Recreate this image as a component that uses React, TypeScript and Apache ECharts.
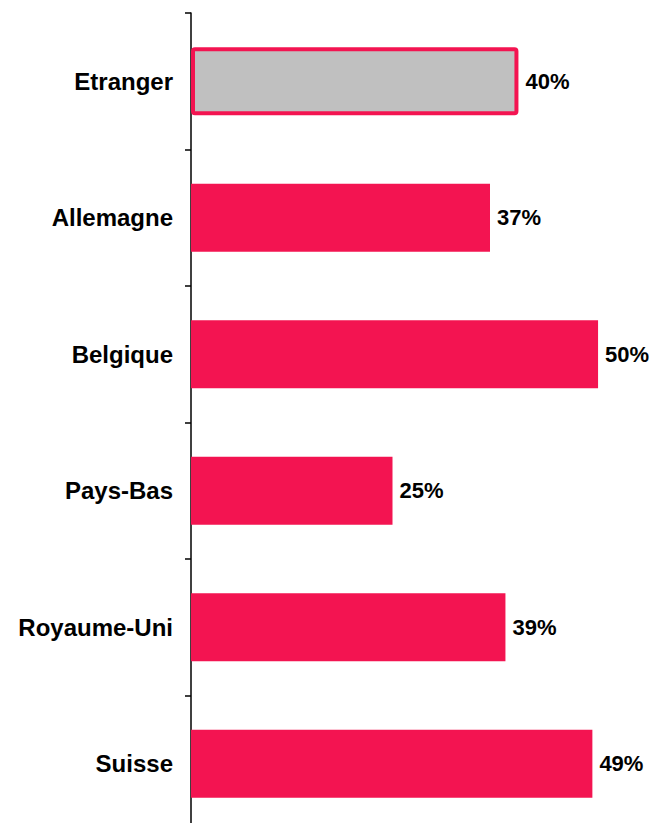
import React, { useEffect, useRef } from "react";
import * as echarts from "echarts";

const categories = ["Etranger", "Allemagne", "Belgique", "Pays-Bas", "Royaume-Uni", "Suisse"];
const values = [40.3, 36.8, 50.1, 24.8, 38.7, 49.4];
const labels = ["40%", "37%", "50%", "25%", "39%", "49%"];

const PINK = "#F31451";
const GREY = "#C0C0C0";
const FONT = "'Liberation Sans', Arial, sans-serif";

export default function App() {
  const ref = useRef<HTMLDivElement>(null);
  useEffect(() => {
    if (!ref.current) return;
    const chart = echarts.init(ref.current, null, { renderer: "svg" });
    chart.setOption({
      animation: false,
      backgroundColor: "#ffffff",
      grid: { left: 191, right: 8, top: 13, bottom: 0, containLabel: false },
      xAxis: {
        type: "value",
        min: 0,
        max: 56,
        show: false,
        splitLine: { show: false },
      },
      yAxis: {
        type: "category",
        data: categories,
        inverse: true,
        axisLine: { show: true, lineStyle: { color: "#000", width: 1.5 } },
        axisTick: { show: true, inside: false, length: 6, lineStyle: { color: "#000", width: 1.5 } },
        axisLabel: {
          margin: 18,
          color: "#000",
          fontFamily: FONT,
          fontWeight: "bold",
          fontSize: 24,
        },
        splitLine: { show: false },
      },
      series: [
        {
          type: "bar",
          barWidth: 68,
          data: values.map((v, i) =>
            i === 0
              ? {
                  value: v,
                  itemStyle: { color: GREY, borderColor: PINK, borderWidth: 4, borderRadius: 2 },
                }
              : { value: v, itemStyle: { color: PINK } }
          ),
          label: {
            show: true,
            position: "right",
            distance: 7,
            color: "#000",
            fontFamily: FONT,
            fontWeight: "bold",
            fontSize: 22,
            formatter: (p: any) => labels[p.dataIndex],
          },
        },
      ],
    });
    return () => chart.dispose();
  }, []);
  return (
    <div
      style={{
        position: "absolute",
        left: 0,
        top: 0,
        width: 654,
        height: 823,
        overflow: "hidden",
        background: "#fff",
      }}
    >
      <div ref={ref} style={{ width: 654, height: 832 }} />
    </div>
  );
}
